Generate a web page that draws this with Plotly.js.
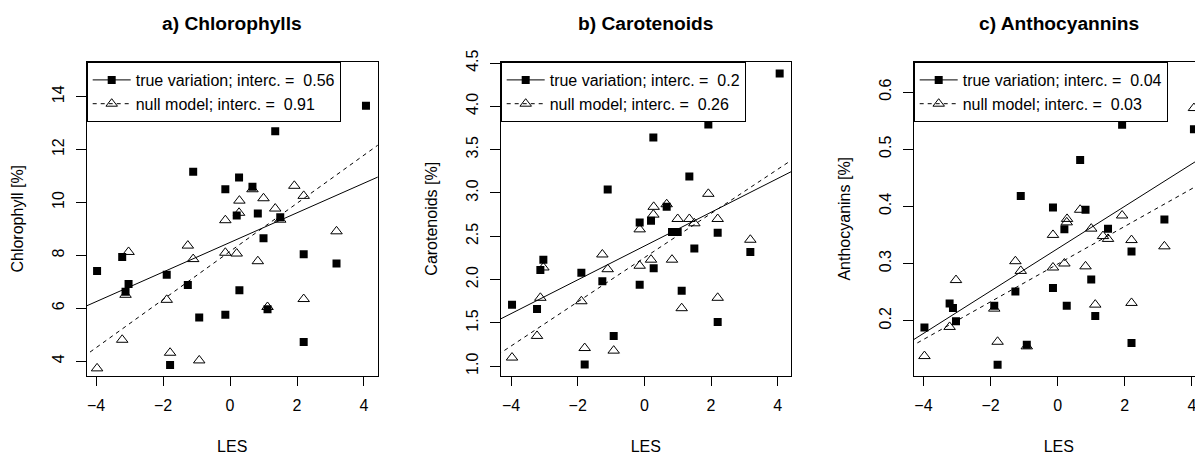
<!DOCTYPE html>
<html>
<head>
<meta charset="utf-8">
<script src="https://cdn.plot.ly/plotly-3.0.1.min.js"></script>
<style>
  html, body { margin: 0; padding: 0; overflow: hidden; background: #fff; }
  #chart { width: 1210px; height: 455px; }
</style>
</head>
<body>
<div id="chart"></div>
<script>
// ---- data ----
const les = [-3.97, -3.22, -3.12, -3.03, -1.89, -1.79, -1.26, -1.10, -0.92, -0.14, -0.14,
             0.20, 0.27, 0.28, 0.67, 0.83, 1.00, 1.12, 1.35, 1.50, 1.92, 2.20, 2.20, 3.18, 4.06];

const chlTrue = [7.41, 7.94, 6.63, 6.92, 7.27, 3.86, 6.88, 11.16, 5.65, 10.50, 5.76,
                 9.51, 10.94, 6.68, 10.59, 9.58, 8.65, 5.96, 12.69, 9.44, null, 8.04, 4.73, 7.69, 13.66];
const chlNull = [3.73, 4.81, 6.51, 8.13, 6.32, 4.32, 8.37, 7.86, 4.03, 9.33, 8.10,
                 8.07, 9.61, 10.07, 10.50, 7.78, 10.16, 6.05, 9.77, 9.35, 10.63, 10.25, 6.35, 8.91, null];

const carTrue = [1.71, 1.66, 2.11, 2.23, 2.08, 1.02, 1.98, 3.04, 1.35, 2.66, 1.94,
                 2.68, 3.64, 2.13, 2.84, 2.55, 2.55, 1.87, 3.19, 2.36, 3.79, 2.54, 1.51, 2.32, 4.38];
const carNull = [1.10, 1.35, 1.79, 2.14, 1.75, 1.21, 2.29, 2.12, 1.18, 2.58, 2.16,
                 2.23, 2.75, 2.84, 2.87, 2.23, 2.70, 1.67, 2.70, 2.65, 2.99, 2.70, 1.79, 2.46, null];

const antTrue = [0.188, 0.230, 0.222, 0.199, 0.226, 0.123, 0.251, 0.418, 0.158, 0.257, 0.398,
                 0.360, 0.226, null, 0.481, 0.394, 0.272, 0.208, null, 0.361, 0.543, 0.321, 0.161, 0.377, 0.535];
const antNull = [0.138, 0.189, null, 0.271, 0.221, 0.163, 0.304, 0.287, 0.155, 0.350, 0.293,
                 0.300, 0.372, 0.378, 0.394, 0.295, 0.361, 0.228, 0.348, 0.343, 0.384, 0.341, 0.231, 0.330, 0.572];

// fitted lines: [true variation, null model]
const fitIntercepts = [[8.49, 8.15], [2.387, 2.253], [0.326, 0.299]];
const fitSlopes     = [[0.56, 0.91], [0.195, 0.255], [0.0371, 0.033]];
const legendCoefs   = [["0.56", "0.91"], ["0.2", "0.26"], ["0.04", "0.03"]];
const seriesNames   = ["true variation; interc. =", "null model; interc. ="];

const panelTitles = ["a) Chlorophylls", "b) Carotenoids", "c) Anthocyannins"];
const yTitles     = ["Chlorophyll [%]", "Carotenoids [%]", "Anthocyanins [%]"];
const xTitle      = "LES";

// ---- styling / layout ----
const W = 1210, H = 455;
const FONT = "Liberation Sans, Arial, Helvetica, sans-serif";
const panelPx = [[86.7, 377.7], [500.7, 791.0], [913.7, 1204.0]];
const plotTop = 62, plotBottom = 375.5;
const xRanges = [[-4.28, 4.41], [-4.31, 4.40], [-4.29, 4.36]];
const yRanges = [[3.46, 15.31], [0.893, 4.512], [0.104, 0.6526]];
const yDticks = [2, 0.5, 0.1];
const yFormats = ["", ".1f", ".1f"];
const lineX = [-10, 10];

const yTrueSets = [chlTrue, carTrue, antTrue];
const yNullSets = [chlNull, carNull, antNull];

const traces = [];
const layout = {
  width: W, height: H,
  margin: {l: 0, r: 0, t: 0, b: 0},
  paper_bgcolor: "#fff", plot_bgcolor: "#fff",
  font: {family: FONT, size: 16, color: "#000"},
  showlegend: true,
  annotations: []
};

const sqMarker = {symbol: "square", size: 8, color: "#000", line: {width: 0}};
const triMarker = {symbol: "triangle-up-open", size: 10, color: "#000", line: {width: 1, color: "#000"}};

for (let i = 0; i < 3; i++) {
  const sfx = i === 0 ? "" : String(i + 1);
  const xa = "x" + sfx, ya = "y" + sfx;
  const legendId = "legend" + sfx;

  traces.push({type: "scatter", mode: "markers", x: les, y: yTrueSets[i],
    xaxis: xa, yaxis: ya, marker: sqMarker, showlegend: false, hoverinfo: "x+y"});
  traces.push({type: "scatter", mode: "markers", x: les, y: yNullSets[i],
    xaxis: xa, yaxis: ya, marker: triMarker, showlegend: false, hoverinfo: "x+y"});

  for (let k = 0; k < 2; k++) {
    traces.push({type: "scatter", mode: "lines+markers",
      x: lineX, y: lineX.map(v => fitIntercepts[i][k] + fitSlopes[i][k] * v),
      xaxis: xa, yaxis: ya, legend: legendId,
      name: seriesNames[k] + "\u00a0 " + legendCoefs[i][k],
      line: {color: "#000", width: 1, dash: k === 0 ? "solid" : "4px,4px"},
      marker: k === 0 ? sqMarker : triMarker,
      cliponaxis: true, hoverinfo: "skip"});
  }

  const x0 = panelPx[i][0] / W, x1 = panelPx[i][1] / W;
  const y0 = (H - plotBottom) / H, y1 = (H - plotTop) / H;

  layout["xaxis" + sfx] = {
    domain: [x0, x1], range: xRanges[i], anchor: ya,
    dtick: 2, tick0: 0, ticks: "outside", ticklen: 9.6, tickwidth: 1, tickcolor: "#000",
    showline: true, mirror: true, linecolor: "#000", linewidth: 1,
    showgrid: false, zeroline: false,
    tickfont: {family: FONT, size: 16, color: "#000"},
    ticklabelstandoff: 6,
    title: {text: xTitle, font: {family: FONT, size: 16, color: "#000"}, standoff: 28}
  };
  layout["yaxis" + sfx] = {
    domain: [y0, y1], range: yRanges[i], anchor: xa,
    dtick: yDticks[i], tick0: 0, tickformat: yFormats[i], tickangle: -90,
    ticks: "outside", ticklen: 9.6, tickwidth: 1, tickcolor: "#000",
    showline: true, mirror: true, linecolor: "#000", linewidth: 1,
    showgrid: false, zeroline: false,
    tickfont: {family: FONT, size: 16, color: "#000"},
    ticklabelstandoff: 6,
    title: {text: yTitles[i], font: {family: FONT, size: 16, color: "#000"}, standoff: 22}
  };
  layout[legendId] = {
    x: x0, y: y1, xanchor: "left", yanchor: "top",
    bgcolor: "#fff", bordercolor: "#000", borderwidth: 1,
    font: {family: FONT, size: 16, color: "#000"},
    itemwidth: 38,
    traceorder: "normal", itemclick: false, itemdoubleclick: false
  };
  layout.annotations.push({
    xref: "paper", yref: "paper", x: (x0 + x1) / 2, y: (H - 23.3) / H,
    xanchor: "center", yanchor: "middle", showarrow: false,
    text: panelTitles[i],
    font: {family: FONT, size: 19.2, color: "#000", weight: "bold"}
  });
}

Plotly.newPlot("chart", traces, layout, {staticPlot: true, displayModeBar: false});
</script>
</body>
</html>
